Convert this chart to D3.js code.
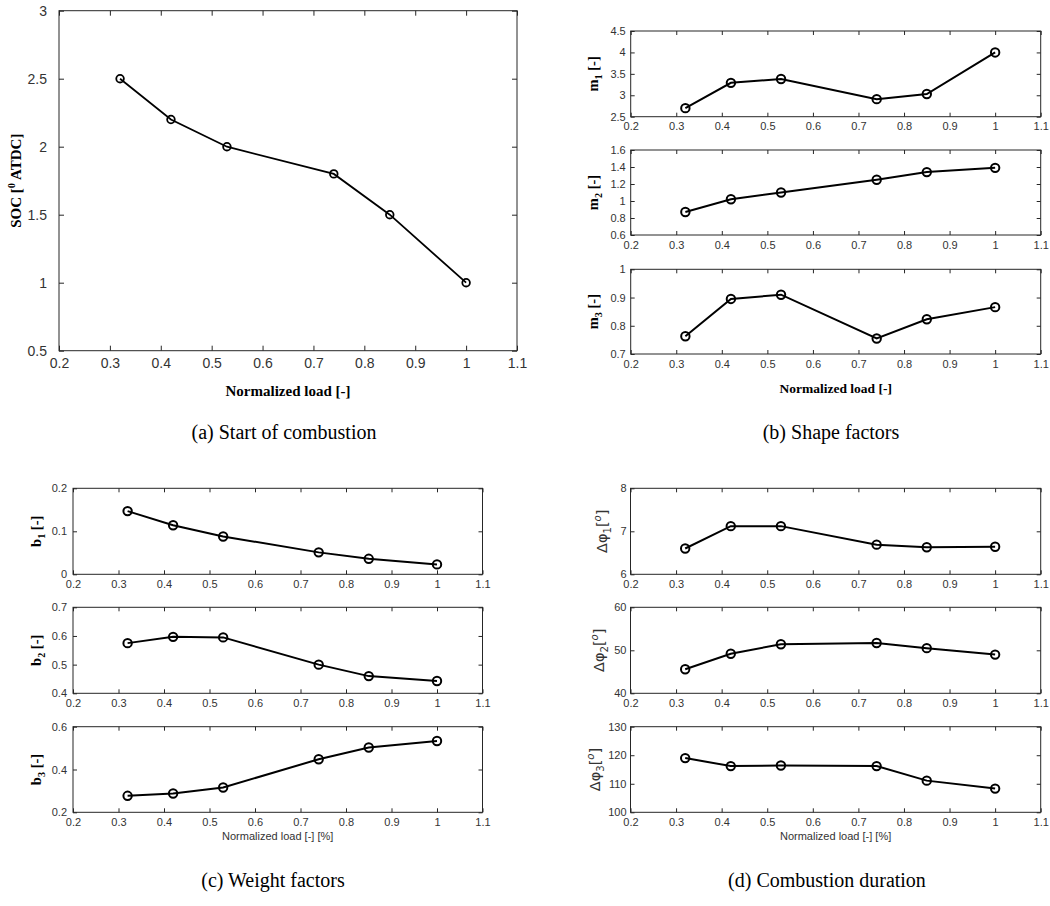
<!DOCTYPE html>
<html>
<head>
<meta charset="utf-8">
<script src="https://cdn.jsdelivr.net/npm/d3@7"></script>
<style>
  body { margin: 0; background: #fff; }
  svg { display: block; }
  .tick text { fill: #333; font-family: "Liberation Sans", Arial, sans-serif; }
  .tick line { stroke: #262626; }
</style>
</head>
<body>
<div id="chart"></div>
<script>
// data
const loads = [0.32, 0.42, 0.53, 0.74, 0.85, 1.0];
const xTicks = [0.2, 0.3, 0.4, 0.5, 0.6, 0.7, 0.8, 0.9, 1.0, 1.1];

const soc = [2.5, 2.2, 2.0, 1.8, 1.5, 1.0];
const socTicks = [0.5, 1, 1.5, 2, 2.5, 3];

const m1 = [2.70, 3.29, 3.38, 2.91, 3.03, 4.00];
const m2 = [0.87, 1.02, 1.10, 1.25, 1.34, 1.39];
const m3 = [0.763, 0.895, 0.910, 0.755, 0.823, 0.866];
const m1Ticks = [2.5, 3, 3.5, 4, 4.5];
const m2Ticks = [0.6, 0.8, 1, 1.2, 1.4, 1.6];
const m3Ticks = [0.7, 0.8, 0.9, 1];

const b1 = [0.147, 0.114, 0.088, 0.051, 0.036, 0.023];
const b2 = [0.575, 0.597, 0.595, 0.500, 0.460, 0.443];
const b3 = [0.277, 0.288, 0.316, 0.448, 0.503, 0.533];
const b1Ticks = [0, 0.1, 0.2];
const b2Ticks = [0.4, 0.5, 0.6, 0.7];
const b3Ticks = [0.2, 0.4, 0.6];

const dphi1 = [6.60, 7.12, 7.12, 6.69, 6.63, 6.64];
const dphi2 = [45.6, 49.2, 51.4, 51.7, 50.5, 49.0];
const dphi3 = [119.0, 116.2, 116.4, 116.2, 111.1, 108.3];
const d1Ticks = [6, 7, 8];
const d2Ticks = [40, 50, 60];
const d3Ticks = [100, 110, 120, 130];

const svg = d3.select("#chart").append("svg")
    .attr("width", 1050)
    .attr("height", 906);

const fmt = d => String(+d.toFixed(2));

// one axes box with line + open circle markers
const drawPanel = (p) => {
    const x = d3.scaleLinear().domain([0.2, 1.1]).range([p.left, p.right]);
    const y = d3.scaleLinear().domain([p.yTicks[0], p.yTicks[p.yTicks.length - 1]]).range([p.bottom, p.top]);
    const g = svg.append("g");

    g.append("g")
        .attr("transform", `translate(0,${p.bottom})`)
        .call(d3.axisBottom(x).tickValues(xTicks).tickSizeInner(-p.tick).tickSizeOuter(0)
            .tickPadding(p.padX).tickFormat(fmt))
        .style("font-size", p.font + "px");
    g.append("g")
        .attr("transform", `translate(0,${p.top})`)
        .call(d3.axisTop(x).tickValues(xTicks).tickSizeInner(-p.tick).tickSizeOuter(0).tickFormat(""));
    g.append("g")
        .attr("transform", `translate(${p.left},0)`)
        .call(d3.axisLeft(y).tickValues(p.yTicks).tickSizeInner(-p.tick).tickSizeOuter(0)
            .tickPadding(p.padY).tickFormat(fmt))
        .style("font-size", p.font + "px");
    g.append("g")
        .attr("transform", `translate(${p.right},0)`)
        .call(d3.axisRight(y).tickValues(p.yTicks).tickSizeInner(-p.tick).tickSizeOuter(0).tickFormat(""));
    g.selectAll(".domain").remove();
    g.selectAll("text").attr("font-family", null);

    g.append("rect")
        .attr("x", p.left).attr("y", p.top)
        .attr("width", p.right - p.left).attr("height", p.bottom - p.top)
        .attr("fill", "none").attr("stroke", "#262626").attr("stroke-width", 1);

    const pts = loads.map((l, i) => [l, p.values[i]]);
    g.append("path")
        .datum(pts)
        .attr("fill", "none")
        .attr("stroke", "#000")
        .attr("stroke-width", p.lw)
        .attr("d", d3.line().x(d => x(d[0])).y(d => y(d[1])));
    g.selectAll("circle")
        .data(pts)
        .enter()
        .append("circle")
        .attr("cx", d => x(d[0]))
        .attr("cy", d => y(d[1]))
        .attr("r", p.r)
        .attr("fill", "none")
        .attr("stroke", "#000")
        .attr("stroke-width", p.lw);

    // rotated y label built from parts: [text, "sub" | "sup" | "", italic]
    const t = g.append("text")
        .attr("transform", `translate(${p.labelX},${(p.top + p.bottom) / 2}) rotate(-90)`)
        .attr("text-anchor", "middle")
        .attr("font-family", p.labelFamily)
        .attr("font-weight", p.labelWeight)
        .attr("font-size", p.labelSize)
        .attr("fill", p.labelColor);
    let shift = 0;
    p.label.forEach(([txt, kind, italic]) => {
        const target = kind === "sub" ? 4 : kind === "sup" ? -6 : 0;
        const ts = t.append("tspan")
            .attr("dy", target - shift)
            .text(txt);
        if (kind) ts.attr("font-size", p.labelSize * 0.7);
        if (italic) ts.attr("font-style", "italic");
        shift = target;
    });
};

const serifBold = { labelFamily: "'Liberation Serif', 'Times New Roman', serif", labelWeight: "bold", labelColor: "#000" };
const sansReg = { labelFamily: "'DejaVu Sans', 'Liberation Sans', sans-serif", labelWeight: "normal", labelColor: "#333" };

// (a) start of combustion
drawPanel(Object.assign({
    left: 59, right: 517, top: 10.7, bottom: 350.7,
    values: soc, yTicks: socTicks, tick: 5, font: 14, padX: 7, padY: 12, lw: 1.8, r: 3.8,
    labelX: 21, labelSize: 15,
    label: [["SOC [", ""], ["0", "sup"], [" ATDC]", ""]]
}, serifBold));

// (b) shape factors
const rows = [[31, 116.7], [150, 235], [269.3, 354]];
const rowsLow = [[488.3, 574.3], [607.3, 693.3], [726.7, 812.3]];
const small = { tick: 4, font: 11, padX: 6, lw: 2, r: 4.2 };

[[m1, m1Ticks, "1"], [m2, m2Ticks, "2"], [m3, m3Ticks, "3"]].forEach(([vals, ticks, k], i) => {
    drawPanel(Object.assign({
        left: 630.7, right: 1040.7, top: rows[i][0], bottom: rows[i][1],
        values: vals, yTicks: ticks, padY: 5, labelX: 598, labelSize: 14.5,
        label: [["m", ""], [k, "sub"], [" [-]", ""]]
    }, small, serifBold));
});

// (c) weight factors
[[b1, b1Ticks, "1"], [b2, b2Ticks, "2"], [b3, b3Ticks, "3"]].forEach(([vals, ticks, k], i) => {
    drawPanel(Object.assign({
        left: 73, right: 482.5, top: rowsLow[i][0], bottom: rowsLow[i][1],
        values: vals, yTicks: ticks, padY: 6, labelX: 41, labelSize: 14.5,
        label: [["b", ""], [k, "sub"], [" [-]", ""]]
    }, small, serifBold));
});

// (d) combustion duration
const dLabelX = [607, 604, 600];
[[dphi1, d1Ticks, "1"], [dphi2, d2Ticks, "2"], [dphi3, d3Ticks, "3"]].forEach(([vals, ticks, k], i) => {
    drawPanel(Object.assign({
        left: 630.5, right: 1040.7, top: rowsLow[i][0], bottom: rowsLow[i][1],
        values: vals, yTicks: ticks, padY: 4, labelX: dLabelX[i], labelSize: 14.5,
        label: [["Δφ", ""], [k, "sub"], ["[", ""], ["o", "sup", true], ["]", ""]]
    }, small, sansReg));
});

// axis titles
const addText = (x, y, txt, size, family, weight, color) => {
    svg.append("text")
        .attr("x", x).attr("y", y)
        .attr("text-anchor", "middle")
        .attr("font-family", family)
        .attr("font-weight", weight)
        .attr("font-size", size)
        .attr("fill", color)
        .text(txt);
};
const serif = "'Liberation Serif', 'Times New Roman', serif";
const sans = "'Liberation Sans', Arial, sans-serif";

addText(288, 396, "Normalized load [-]", 15, serif, "bold", "#000");
addText(835.7, 393, "Normalized load [-]", 13.5, serif, "bold", "#000");
addText(277.7, 840, "Normalized load [-] [%]", 11, sans, "normal", "#333");
addText(835.6, 840, "Normalized load [-] [%]", 11, sans, "normal", "#333");

// captions
addText(284, 439, "(a) Start of combustion", 20, serif, "normal", "#000");
addText(831, 439, "(b) Shape factors", 20, serif, "normal", "#000");
addText(273, 887, "(c) Weight factors", 20, serif, "normal", "#000");
addText(827, 887, "(d) Combustion duration", 20, serif, "normal", "#000");
</script>
</body>
</html>
